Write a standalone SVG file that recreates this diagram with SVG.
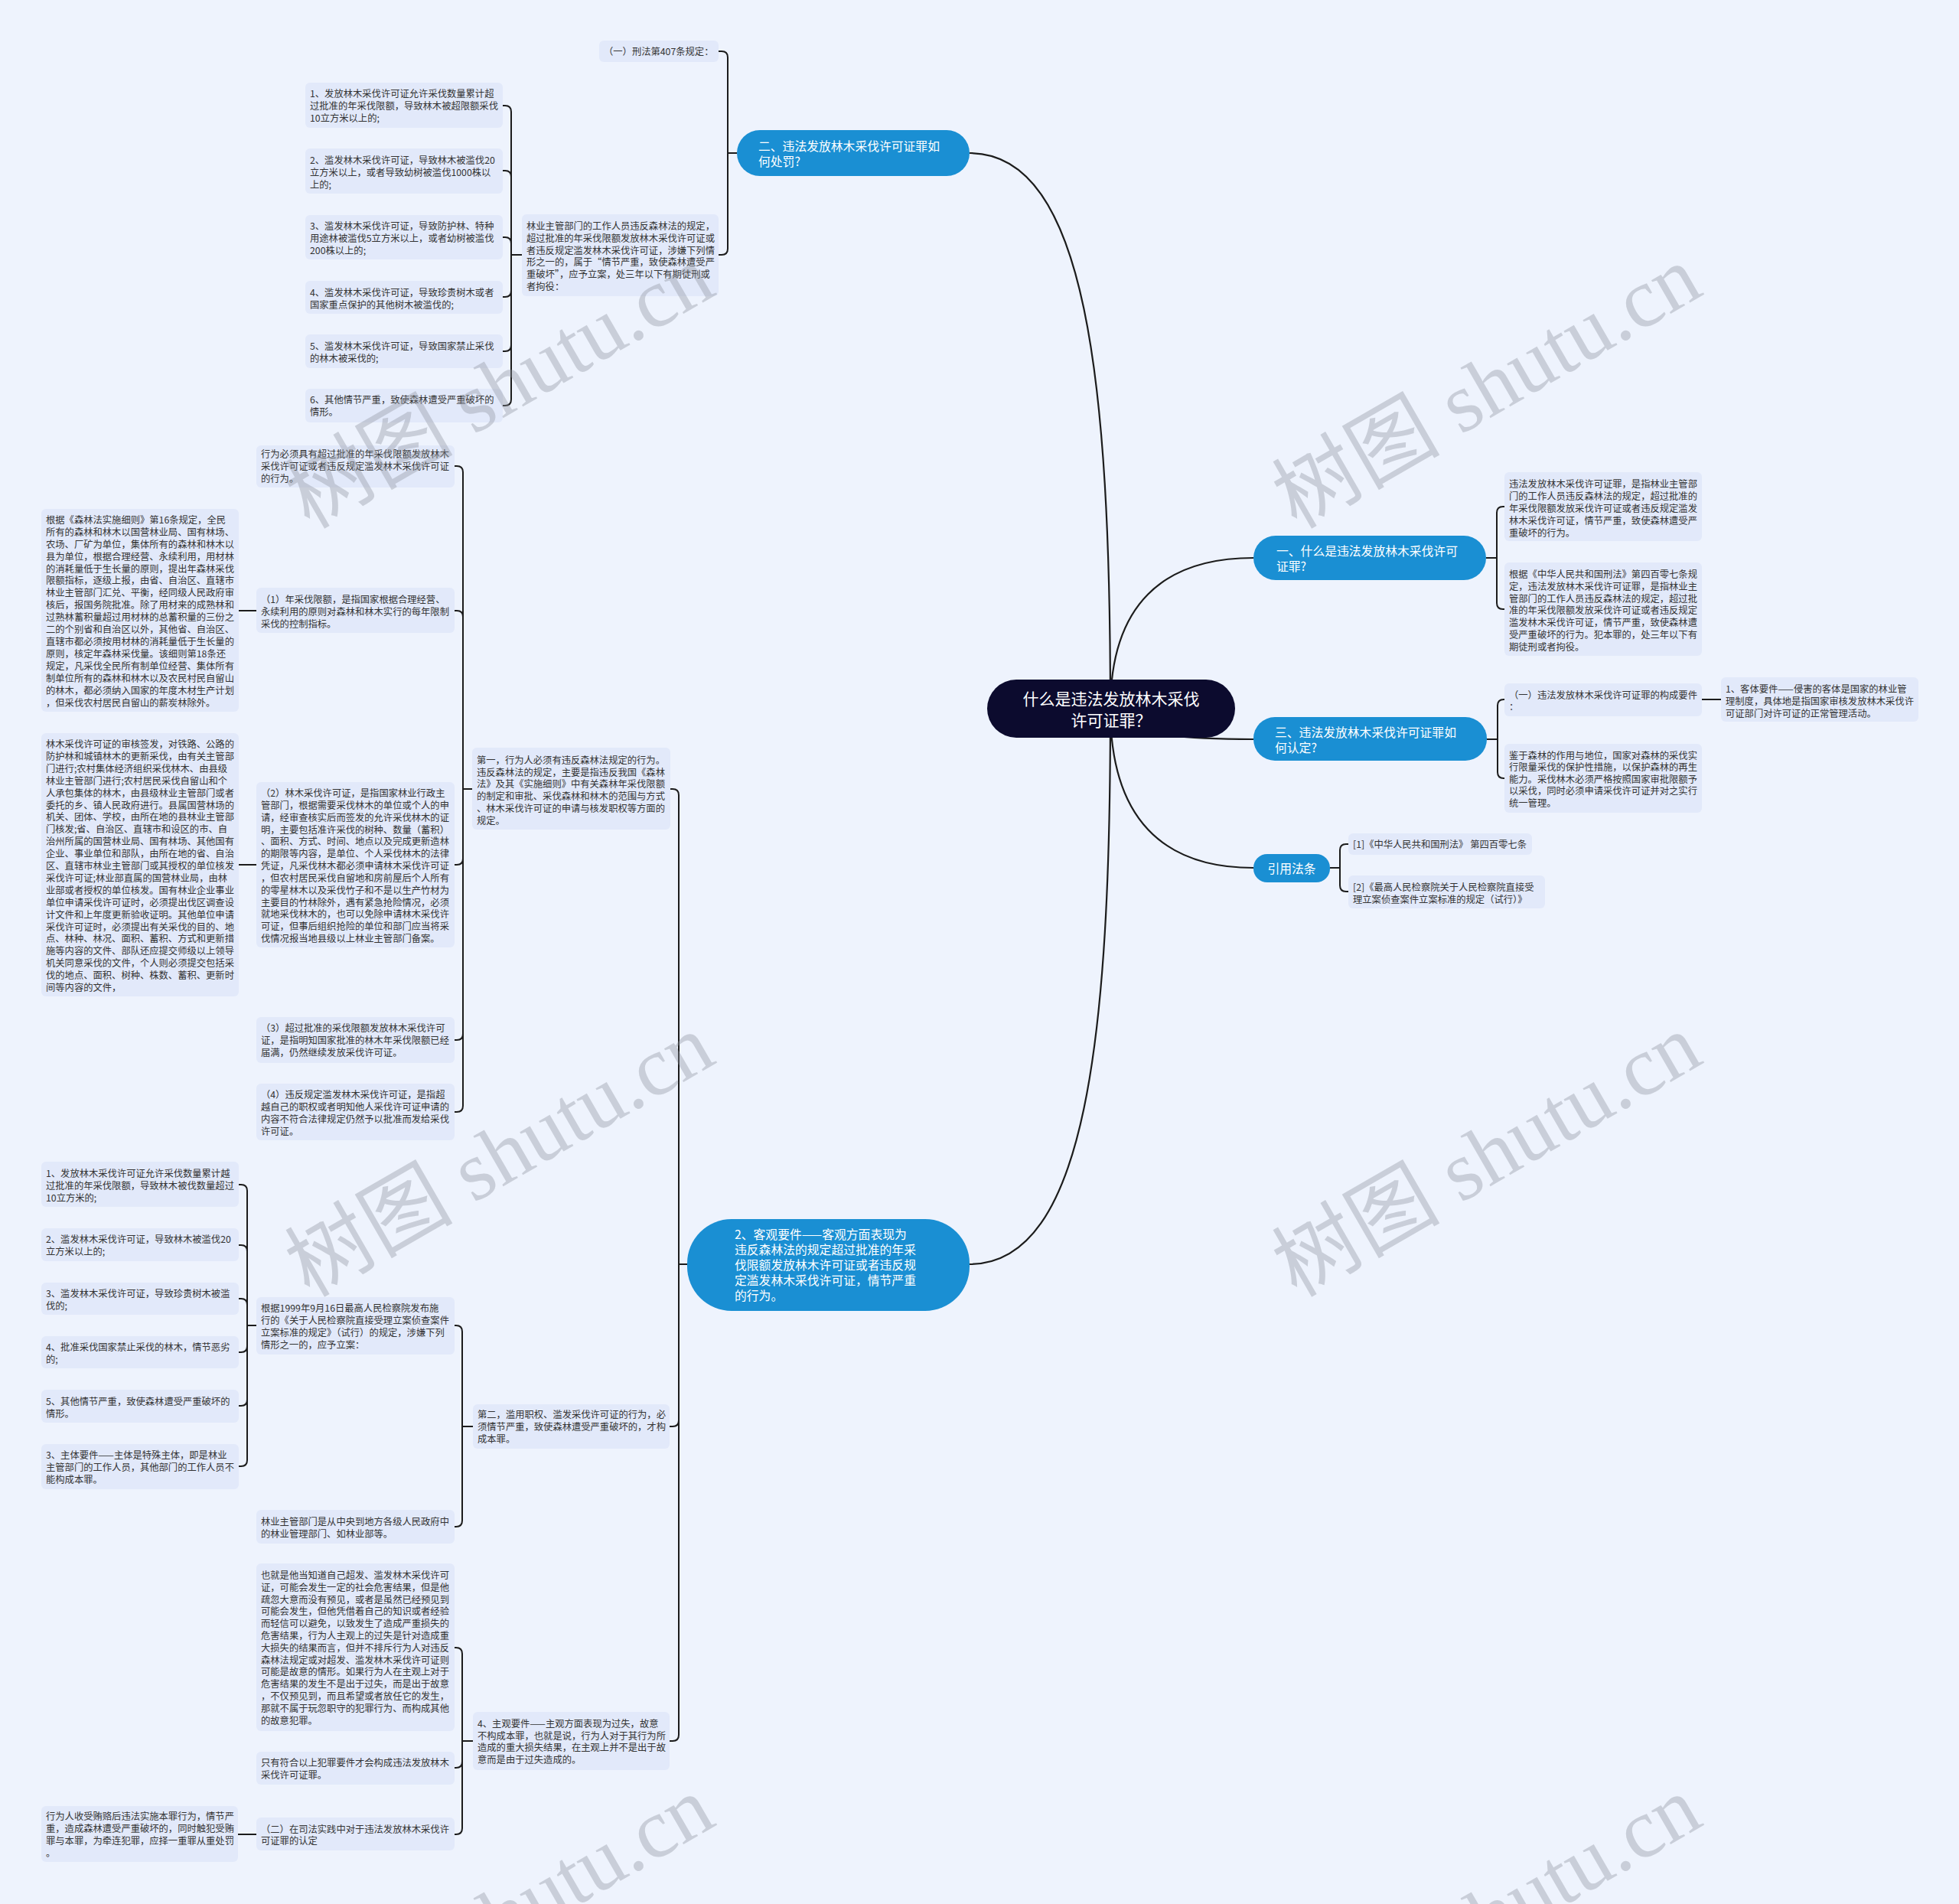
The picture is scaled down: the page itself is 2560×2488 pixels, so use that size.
<svg xmlns="http://www.w3.org/2000/svg" width="2560" height="2488" viewBox="0 0 2560 2488">
<style>
.bg{fill:#eef3fd}
.leaf{fill:#e2e9fa}
.t{font-family:"Noto Sans CJK SC","Noto Sans",sans-serif;font-size:12.3px;fill:#333}
.mt{font-family:"Noto Sans CJK SC","Noto Sans",sans-serif;font-size:15.8px;fill:#fff}
.rt{font-family:"Noto Sans CJK SC","Noto Sans",sans-serif;font-size:21px;fill:#fff}
.blue{fill:#1a8fd3}
.c{fill:none;stroke:#1c1c1c;stroke-width:2}
.m{fill:none;stroke:#1c1c1c;stroke-width:2.2}
text,tspan{dominant-baseline:central}
.wm{font-family:"Liberation Serif","Noto Sans CJK SC",serif;font-size:110px;fill:#8e949e;fill-opacity:0.38}
</style>
<rect class="bg" x="0" y="0" width="2560" height="2488"/>

<g id="connectors">
<path class="m" d="M1451 926 C1451 500 1420 200 1267 200"/>
<path class="m" d="M1451 926 C1451 1352 1420 1652 1267 1652"/>
<path class="m" d="M1451 926 C1451 790 1520 729 1638 729"/>
<path class="m" d="M1451 926 C1451 955 1520 966 1638 966"/>
<path class="m" d="M1451 926 C1451 1070 1520 1134 1638 1134"/>
<path class="c" d="M963 200 H951 V75 Q951 67 943 67 H939"/>
<path class="c" d="M963 200 H951 V325 Q951 333 943 333 H939"/>
<path class="c" d="M682 333 H668 V146 Q668 138 660 138 H657"/>
<path class="c" d="M682 333 H668 V231 Q668 223 660 223 H657"/>
<path class="c" d="M682 333 H668 V318 Q668 310 660 310 H657"/>
<path class="c" d="M682 333 H668 V380 Q668 388 660 388 H657"/>
<path class="c" d="M682 333 H668 V451 Q668 459 660 459 H657"/>
<path class="c" d="M682 333 H668 V522 Q668 530 660 530 H657"/>
<path class="c" d="M898 1652 H887 V1039 Q887 1031 879 1031 H876"/>
<path class="c" d="M898 1652 H887 V1856 Q887 1864 879 1864 H875"/>
<path class="c" d="M898 1652 H887 V2267 Q887 2275 879 2275 H875"/>
<path class="c" d="M617 1031 H605 V617 Q605 609 597 609 H594"/>
<path class="c" d="M617 1031 H605 V806 Q605 798 597 798 H594"/>
<path class="c" d="M617 1031 H605 V1122 Q605 1130 597 1130 H594"/>
<path class="c" d="M617 1031 H605 V1351 Q605 1359 597 1359 H594"/>
<path class="c" d="M617 1031 H605 V1445 Q605 1453 597 1453 H594"/>
<path class="c" d="M335 798 H312"/>
<path class="c" d="M335 1130 H312"/>
<path class="c" d="M618 1864 H604 V1740 Q604 1732 596 1732 H594"/>
<path class="c" d="M618 1864 H604 V1987 Q604 1995 596 1995 H594"/>
<path class="c" d="M335 1732 H323 V1556 Q323 1548 315 1548 H312"/>
<path class="c" d="M335 1732 H323 V1635 Q323 1627 315 1627 H312"/>
<path class="c" d="M335 1732 H323 V1705 Q323 1697 315 1697 H312"/>
<path class="c" d="M335 1732 H323 V1759 Q323 1767 315 1767 H312"/>
<path class="c" d="M335 1732 H323 V1829 Q323 1837 315 1837 H312"/>
<path class="c" d="M335 1732 H323 V1908 Q323 1916 315 1916 H312"/>
<path class="c" d="M618 2275 H604 V2161 Q604 2153 596 2153 H594"/>
<path class="c" d="M618 2275 H604 V2302 Q604 2310 596 2310 H594"/>
<path class="c" d="M618 2275 H604 V2389 Q604 2397 596 2397 H594"/>
<path class="c" d="M335 2397 H311"/>
<path class="c" d="M1942 729 H1956 V670 Q1956 662 1964 662 H1966"/>
<path class="c" d="M1942 729 H1956 V788 Q1956 796 1964 796 H1966"/>
<path class="c" d="M1943 966 H1957 V922 Q1957 914 1965 914 H1966"/>
<path class="c" d="M1943 966 H1957 V1009 Q1957 1017 1965 1017 H1966"/>
<path class="c" d="M2224 914 H2249"/>
<path class="c" d="M1738 1134 H1751 V1111 Q1751 1103 1759 1103 H1762"/>
<path class="c" d="M1738 1134 H1751 V1157 Q1751 1165 1759 1165 H1762"/>
</g>

<g id="root">
<rect x="1290" y="888" width="324" height="76" rx="38" fill="#0c0b2e"/>
<text class="rt" text-anchor="middle"><tspan x="1452" y="912">什么是违法发放林木采伐</tspan><tspan x="1452" y="940">许可证罪？</tspan></text>
</g>

<g id="n-er">
<rect class="blue" x="963" y="170" width="304" height="60" rx="30"/>
<text class="mt"><tspan x="991" y="190">二、违法发放林木采伐许可证罪如</tspan><tspan x="991" y="210">何处罚?</tspan></text>
</g>
<g id="n-keguan">
<rect class="blue" x="898" y="1593" width="369" height="120" rx="58"/>
<text class="mt"><tspan x="960" y="1612">2、客观要件——客观方面表现为</tspan><tspan x="960" y="1632">违反森林法的规定超过批准的年采</tspan><tspan x="960" y="1652">伐限额发放林木许可证或者违反规</tspan><tspan x="960" y="1672">定滥发林木采伐许可证，情节严重</tspan><tspan x="960" y="1692">的行为。</tspan></text>
</g>
<g id="n-yi">
<rect class="blue" x="1638" y="700" width="304" height="58" rx="29"/>
<text class="mt"><tspan x="1668" y="719">一、什么是违法发放林木采伐许可</tspan><tspan x="1668" y="739">证罪?</tspan></text>
</g>
<g id="n-san">
<rect class="blue" x="1638" y="937" width="305" height="57" rx="28"/>
<text class="mt"><tspan x="1666" y="956">三、违法发放林木采伐许可证罪如</tspan><tspan x="1666" y="976">何认定?</tspan></text>
</g>
<g id="n-yinyong">
<rect class="blue" x="1638" y="1116" width="100" height="37" rx="18"/>
<text class="mt" text-anchor="middle" x="1688" y="1134">引用法条</text>
</g>

<g id="l1"><rect class="leaf" x="783" y="53" width="156" height="28" rx="6"/>
<text class="t"><tspan x="789" y="67">（一）刑法第407条规定：</tspan></text></g>

<g id="l2"><rect class="leaf" x="399" y="108" width="258" height="59" rx="6"/>
<text class="t"><tspan x="405" y="122">1、发放林木采伐许可证允许采伐数量累计超</tspan><tspan x="405" y="138">过批准的年采伐限额，导致林木被超限额采伐</tspan><tspan x="405" y="154">10立方米以上的;</tspan></text></g>

<g id="l3"><rect class="leaf" x="399" y="194" width="258" height="59" rx="6"/>
<text class="t"><tspan x="405" y="209">2、滥发林木采伐许可证，导致林木被滥伐20</tspan><tspan x="405" y="225">立方米以上，或者导致幼树被滥伐1000株以</tspan><tspan x="405" y="241">上的;</tspan></text></g>

<g id="l4"><rect class="leaf" x="399" y="281" width="258" height="58" rx="6"/>
<text class="t"><tspan x="405" y="295">3、滥发林木采伐许可证，导致防护林、特种</tspan><tspan x="405" y="311">用途林被滥伐5立方米以上，或者幼树被滥伐</tspan><tspan x="405" y="327">200株以上的;</tspan></text></g>

<g id="l5"><rect class="leaf" x="399" y="367" width="258" height="43" rx="6"/>
<text class="t"><tspan x="405" y="382">4、滥发林木采伐许可证，导致珍贵树木或者</tspan><tspan x="405" y="398">国家重点保护的其他树木被滥伐的;</tspan></text></g>

<g id="l6"><rect class="leaf" x="399" y="437" width="258" height="44" rx="6"/>
<text class="t"><tspan x="405" y="452">5、滥发林木采伐许可证，导致国家禁止采伐</tspan><tspan x="405" y="468">的林木被采伐的;</tspan></text></g>

<g id="l7"><rect class="leaf" x="399" y="508" width="258" height="44" rx="6"/>
<text class="t"><tspan x="405" y="522">6、其他情节严重，致使森林遭受严重破坏的</tspan><tspan x="405" y="538">情形。</tspan></text></g>

<g id="l8"><rect class="leaf" x="682" y="280" width="257" height="107" rx="6"/>
<text class="t"><tspan x="688" y="295">林业主管部门的工作人员违反森林法的规定，</tspan><tspan x="688" y="311">超过批准的年采伐限额发放林木采伐许可证或</tspan><tspan x="688" y="327">者违反规定滥发林木采伐许可证，涉嫌下列情</tspan><tspan x="688" y="342">形之一的，属于“情节严重，致使森林遭受严</tspan><tspan x="688" y="358">重破坏”，应予立案，处三年以下有期徒刑或</tspan><tspan x="688" y="374">者拘役：</tspan></text></g>

<g id="l9"><rect class="leaf" x="617" y="977" width="259" height="107" rx="6"/>
<text class="t"><tspan x="623" y="993">第一，行为人必须有违反森林法规定的行为。</tspan><tspan x="623" y="1009">违反森林法的规定，主要是指违反我国《森林</tspan><tspan x="623" y="1024">法》及其《实施细则》中有关森林年采伐限额</tspan><tspan x="623" y="1040">的制定和审批、采伐森林和林木的范围与方式</tspan><tspan x="623" y="1056">、林木采伐许可证的申请与核发职权等方面的</tspan><tspan x="623" y="1072">规定。</tspan></text></g>

<g id="l10"><rect class="leaf" x="335" y="582" width="259" height="55" rx="6"/>
<text class="t"><tspan x="341" y="593">行为必须具有超过批准的年采伐限额发放林木</tspan><tspan x="341" y="609">采伐许可证或者违反规定滥发林木采伐许可证</tspan><tspan x="341" y="625">的行为。</tspan></text></g>

<g id="l11"><rect class="leaf" x="335" y="768" width="259" height="59" rx="6"/>
<text class="t"><tspan x="341" y="783">（1）年采伐限额，是指国家根据合理经营、</tspan><tspan x="341" y="799">永续利用的原则对森林和林木实行的每年限制</tspan><tspan x="341" y="815">采伐的控制指标。</tspan></text></g>

<g id="l12"><rect class="leaf" x="54" y="665" width="258" height="265" rx="6"/>
<text class="t"><tspan x="60" y="679">根据《森林法实施细则》第16条规定，全民</tspan><tspan x="60" y="695">所有的森林和林木以国营林业局、国有林场、</tspan><tspan x="60" y="711">农场、厂矿为单位，集体所有的森林和林木以</tspan><tspan x="60" y="727">县为单位，根据合理经营、永续利用，用材林</tspan><tspan x="60" y="743">的消耗量低于生长量的原则，提出年森林采伐</tspan><tspan x="60" y="758">限额指标，逐级上报，由省、自治区、直辖市</tspan><tspan x="60" y="774">林业主管部门汇兑、平衡，经同级人民政府审</tspan><tspan x="60" y="790">核后，报国务院批准。除了用材来的成熟林和</tspan><tspan x="60" y="806">过熟林蓄积量超过用材林的总蓄积量的三份之</tspan><tspan x="60" y="822">二的个别省和自治区以外，其他省、自治区、</tspan><tspan x="60" y="838">直辖市都必须按用材林的消耗量低于生长量的</tspan><tspan x="60" y="854">原则，核定年森林采伐量。该细则第18条还</tspan><tspan x="60" y="870">规定，凡采伐全民所有制单位经营、集体所有</tspan><tspan x="60" y="886">制单位所有的森林和林木以及农民村民自留山</tspan><tspan x="60" y="902">的林木，都必须纳入国家的年度木材生产计划</tspan><tspan x="60" y="918">，但采伐农村居民自留山的薪炭林除外。</tspan></text></g>

<g id="l13"><rect class="leaf" x="335" y="1022" width="259" height="216" rx="6"/>
<text class="t"><tspan x="341" y="1036">（2）林木采伐许可证，是指国家林业行政主</tspan><tspan x="341" y="1052">管部门，根据需要采伐林木的单位或个人的申</tspan><tspan x="341" y="1068">请，经审查核实后而签发的允许采伐林木的证</tspan><tspan x="341" y="1084">明，主要包括准许采伐的树种、数量（蓄积）</tspan><tspan x="341" y="1099">、面积、方式、时间、地点以及完成更新造林</tspan><tspan x="341" y="1115">的期限等内容，是单位、个人采伐林木的法律</tspan><tspan x="341" y="1131">凭证，凡采伐林木都必须申请林木采伐许可证</tspan><tspan x="341" y="1147">，但农村居民采伐自留地和房前屋后个人所有</tspan><tspan x="341" y="1163">的零星林木以及采伐竹子和不是以生产竹材为</tspan><tspan x="341" y="1179">主要目的竹林除外，遇有紧急抢险情况，必须</tspan><tspan x="341" y="1194">就地采伐林木的，也可以免除申请林木采伐许</tspan><tspan x="341" y="1210">可证，但事后组织抢险的单位和部门应当将采</tspan><tspan x="341" y="1226">伐情况报当地县级以上林业主管部门备案。</tspan></text></g>

<g id="l14"><rect class="leaf" x="54" y="958" width="258" height="344" rx="6"/>
<text class="t"><tspan x="60" y="972">林木采伐许可证的审核签发，对铁路、公路的</tspan><tspan x="60" y="988">防护林和城镇林木的更新采伐，由有关主管部</tspan><tspan x="60" y="1004">门进行;农村集体经济组织采伐林木、由县级</tspan><tspan x="60" y="1020">林业主管部门进行;农村居民采伐自留山和个</tspan><tspan x="60" y="1036">人承包集体的林木，由县级林业主管部门或者</tspan><tspan x="60" y="1052">委托的乡、镇人民政府进行。县属国营林场的</tspan><tspan x="60" y="1067">机关、团体、学校，由所在地的县林业主管部</tspan><tspan x="60" y="1083">门核发;省、自治区、直辖市和设区的市、自</tspan><tspan x="60" y="1099">治州所属的国营林业局、国有林场、其他国有</tspan><tspan x="60" y="1115">企业、事业单位和部队，由所在地的省、自治</tspan><tspan x="60" y="1131">区、直辖市林业主管部门或其授权的单位核发</tspan><tspan x="60" y="1147">采伐许可证;林业部直属的国营林业局，由林</tspan><tspan x="60" y="1163">业部或者授权的单位核发。国有林业企业事业</tspan><tspan x="60" y="1179">单位申请采伐许可证时，必须提出伐区调查设</tspan><tspan x="60" y="1195">计文件和上年度更新验收证明。其他单位申请</tspan><tspan x="60" y="1211">采伐许可证时，必须提出有关采伐的目的、地</tspan><tspan x="60" y="1226">点、林种、林况、面积、蓄积、方式和更新措</tspan><tspan x="60" y="1242">施等内容的文件、部队还应提交师级以上领导</tspan><tspan x="60" y="1258">机关同意采伐的文件，个人则必须提交包括采</tspan><tspan x="60" y="1274">伐的地点、面积、树种、株数、蓄积、更新时</tspan><tspan x="60" y="1290">间等内容的文件，</tspan></text></g>

<g id="l15"><rect class="leaf" x="335" y="1329" width="259" height="60" rx="6"/>
<text class="t"><tspan x="341" y="1343">（3）超过批准的采伐限额发放林木采伐许可</tspan><tspan x="341" y="1359">证，是指明知国家批准的林木年采伐限额已经</tspan><tspan x="341" y="1375">届满，仍然继续发放采伐许可证。</tspan></text></g>

<g id="l16"><rect class="leaf" x="335" y="1416" width="259" height="74" rx="6"/>
<text class="t"><tspan x="341" y="1430">（4）违反规定滥发林木采伐许可证，是指超</tspan><tspan x="341" y="1446">越自己的职权或者明知他人采伐许可证申请的</tspan><tspan x="341" y="1462">内容不符合法律规定仍然予以批准而发给采伐</tspan><tspan x="341" y="1478">许可证。</tspan></text></g>

<g id="l17"><rect class="leaf" x="618" y="1835" width="257" height="58" rx="6"/>
<text class="t"><tspan x="624" y="1848">第二，滥用职权、滥发采伐许可证的行为，必</tspan><tspan x="624" y="1864">须情节严重，致使森林遭受严重破坏的，才构</tspan><tspan x="624" y="1880">成本罪。</tspan></text></g>

<g id="l18"><rect class="leaf" x="335" y="1695" width="259" height="75" rx="6"/>
<text class="t"><tspan x="341" y="1709">根据1999年9月16日最高人民检察院发布施</tspan><tspan x="341" y="1725">行的《关于人民检察院直接受理立案侦查案件</tspan><tspan x="341" y="1741">立案标准的规定》（试行）的规定，涉嫌下列</tspan><tspan x="341" y="1757">情形之一的，应予立案：</tspan></text></g>

<g id="l19"><rect class="leaf" x="335" y="1973" width="259" height="44" rx="6"/>
<text class="t"><tspan x="341" y="1988">林业主管部门是从中央到地方各级人民政府中</tspan><tspan x="341" y="2004">的林业管理部门、如林业部等。</tspan></text></g>

<g id="l20"><rect class="leaf" x="54" y="1518" width="258" height="59" rx="6"/>
<text class="t"><tspan x="60" y="1533">1、发放林木采伐许可证允许采伐数量累计越</tspan><tspan x="60" y="1549">过批准的年采伐限额，导致林木被伐数量超过</tspan><tspan x="60" y="1565">10立方米的;</tspan></text></g>

<g id="l21"><rect class="leaf" x="54" y="1605" width="258" height="43" rx="6"/>
<text class="t"><tspan x="60" y="1619">2、滥发林木采伐许可证，导致林木被滥伐20</tspan><tspan x="60" y="1635">立方米以上的;</tspan></text></g>

<g id="l22"><rect class="leaf" x="54" y="1676" width="258" height="42" rx="6"/>
<text class="t"><tspan x="60" y="1690">3、滥发林木采伐许可证，导致珍贵树木被滥</tspan><tspan x="60" y="1706">伐的;</tspan></text></g>

<g id="l23"><rect class="leaf" x="54" y="1746" width="258" height="42" rx="6"/>
<text class="t"><tspan x="60" y="1760">4、批准采伐国家禁止采伐的林木，情节恶劣</tspan><tspan x="60" y="1776">的;</tspan></text></g>

<g id="l24"><rect class="leaf" x="54" y="1816" width="258" height="43" rx="6"/>
<text class="t"><tspan x="60" y="1831">5、其他情节严重，致使森林遭受严重破坏的</tspan><tspan x="60" y="1847">情形。</tspan></text></g>

<g id="l25"><rect class="leaf" x="54" y="1887" width="258" height="59" rx="6"/>
<text class="t"><tspan x="60" y="1901">3、主体要件——主体是特殊主体，即是林业</tspan><tspan x="60" y="1917">主管部门的工作人员，其他部门的工作人员不</tspan><tspan x="60" y="1933">能构成本罪。</tspan></text></g>

<g id="l26"><rect class="leaf" x="618" y="2237" width="257" height="76" rx="6"/>
<text class="t"><tspan x="624" y="2252">4、主观要件——主观方面表现为过失，故意</tspan><tspan x="624" y="2268">不构成本罪，也就是说，行为人对于其行为所</tspan><tspan x="624" y="2283">造成的重大损失结果，在主观上并不是出于故</tspan><tspan x="624" y="2299">意而是由于过失造成的。</tspan></text></g>

<g id="l27"><rect class="leaf" x="335" y="2043" width="259" height="219" rx="6"/>
<text class="t"><tspan x="341" y="2058">也就是他当知道自己超发、滥发林木采伐许可</tspan><tspan x="341" y="2074">证，可能会发生一定的社会危害结果，但是他</tspan><tspan x="341" y="2090">疏忽大意而没有预见，或者是虽然已经预见到</tspan><tspan x="341" y="2105">可能会发生，但他凭借着自己的知识或者经验</tspan><tspan x="341" y="2121">而轻信可以避免，以致发生了造成严重损失的</tspan><tspan x="341" y="2137">危害结果，行为人主观上的过失是针对造成重</tspan><tspan x="341" y="2153">大损失的结果而言，但并不排斥行为人对违反</tspan><tspan x="341" y="2169">森林法规定或对超发、滥发林木采伐许可证则</tspan><tspan x="341" y="2184">可能是故意的情形。如果行为人在主观上对于</tspan><tspan x="341" y="2200">危害结果的发生不是出于过失，而是出于故意</tspan><tspan x="341" y="2216">，不仅预见到，而且希望或者放任它的发生，</tspan><tspan x="341" y="2232">那就不属于玩忽职守的犯罪行为、而构成其他</tspan><tspan x="341" y="2248">的故意犯罪。</tspan></text></g>

<g id="l28"><rect class="leaf" x="335" y="2289" width="259" height="43" rx="6"/>
<text class="t"><tspan x="341" y="2303">只有符合以上犯罪要件才会构成违法发放林木</tspan><tspan x="341" y="2319">采伐许可证罪。</tspan></text></g>

<g id="l29"><rect class="leaf" x="335" y="2375" width="259" height="43" rx="6"/>
<text class="t"><tspan x="341" y="2390">（二）在司法实践中对于违法发放林木采伐许</tspan><tspan x="341" y="2405">可证罪的认定</tspan></text></g>

<g id="l30"><rect class="leaf" x="54" y="2360" width="257" height="73" rx="6"/>
<text class="t"><tspan x="60" y="2373">行为人收受贿赂后违法实施本罪行为，情节严</tspan><tspan x="60" y="2389">重，造成森林遭受严重破坏的，同时触犯受贿</tspan><tspan x="60" y="2405">罪与本罪，为牵连犯罪，应择一重罪从重处罚</tspan><tspan x="60" y="2421">。</tspan></text></g>

<g id="l31"><rect class="leaf" x="1966" y="617" width="258" height="90" rx="6"/>
<text class="t"><tspan x="1972" y="632">违法发放林木采伐许可证罪，是指林业主管部</tspan><tspan x="1972" y="648">门的工作人员违反森林法的规定，超过批准的</tspan><tspan x="1972" y="664">年采伐限额发放采伐许可证或者违反规定滥发</tspan><tspan x="1972" y="680">林木采伐许可证，情节严重，致使森林遭受严</tspan><tspan x="1972" y="696">重破坏的行为。</tspan></text></g>

<g id="l32"><rect class="leaf" x="1966" y="735" width="258" height="122" rx="6"/>
<text class="t"><tspan x="1972" y="750">根据《中华人民共和国刑法》第四百零七条规</tspan><tspan x="1972" y="766">定，违法发放林木采伐许可证罪，是指林业主</tspan><tspan x="1972" y="782">管部门的工作人员违反森林法的规定，超过批</tspan><tspan x="1972" y="797">准的年采伐限额发放采伐许可证或者违反规定</tspan><tspan x="1972" y="813">滥发林木采伐许可证，情节严重，致使森林遭</tspan><tspan x="1972" y="829">受严重破坏的行为。犯本罪的，处三年以下有</tspan><tspan x="1972" y="845">期徒刑或者拘役。</tspan></text></g>

<g id="l33"><rect class="leaf" x="1966" y="893" width="258" height="43" rx="6"/>
<text class="t"><tspan x="1972" y="908">（一）违法发放林木采伐许可证罪的构成要件</tspan><tspan x="1972" y="923">：</tspan></text></g>

<g id="l34"><rect class="leaf" x="2249" y="885" width="258" height="58" rx="6"/>
<text class="t"><tspan x="2255" y="900">1、客体要件——侵害的客体是国家的林业管</tspan><tspan x="2255" y="916">理制度，具体地是指国家审核发放林木采伐许</tspan><tspan x="2255" y="932">可证部门对许可证的正常管理活动。</tspan></text></g>

<g id="l35"><rect class="leaf" x="1966" y="972" width="258" height="90" rx="6"/>
<text class="t"><tspan x="1972" y="987">鉴于森林的作用与地位，国家对森林的采伐实</tspan><tspan x="1972" y="1002">行限量采伐的保护性措施，以保护森林的再生</tspan><tspan x="1972" y="1018">能力。采伐林木必须严格按照国家审批限额予</tspan><tspan x="1972" y="1033">以采伐，同时必须申请采伐许可证并对之实行</tspan><tspan x="1972" y="1049">统一管理。</tspan></text></g>

<g id="l36"><rect class="leaf" x="1762" y="1089" width="240" height="28" rx="6"/>
<text class="t"><tspan x="1768" y="1103">[1]《中华人民共和国刑法》 第四百零七条</tspan></text></g>

<g id="l37"><rect class="leaf" x="1762" y="1144" width="257" height="43" rx="6"/>
<text class="t"><tspan x="1768" y="1159">[2]《最高人民检察院关于人民检察院直接受</tspan><tspan x="1768" y="1175">理立案侦查案件立案标准的规定（试行）》</tspan></text></g>

<g id="watermarks">
<text class="wm" x="653" y="506" text-anchor="middle" transform="rotate(-30 653 506)">树图 shutu.cn</text>
<text class="wm" x="1943" y="506" text-anchor="middle" transform="rotate(-30 1943 506)">树图 shutu.cn</text>
<text class="wm" x="653" y="1510" text-anchor="middle" transform="rotate(-30 653 1510)">树图 shutu.cn</text>
<text class="wm" x="1943" y="1510" text-anchor="middle" transform="rotate(-30 1943 1510)">树图 shutu.cn</text>
<text class="wm" x="653" y="2506" text-anchor="middle" transform="rotate(-30 653 2506)">树图 shutu.cn</text>
<text class="wm" x="1943" y="2506" text-anchor="middle" transform="rotate(-30 1943 2506)">树图 shutu.cn</text>
</g>
</svg>
